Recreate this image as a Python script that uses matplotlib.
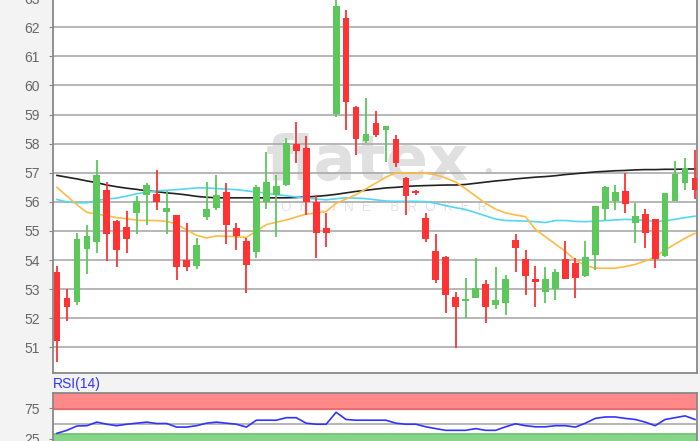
import numpy as np
import matplotlib
matplotlib.use("Agg")
import matplotlib.pyplot as plt

# daily candles
opens = [53.56, 52.68, 52.55, 54.38, 54.61, 56.37, 55.30, 55.11, 55.62, 56.25,
         56.23, 55.66, 55.51, 53.96, 53.79, 55.48, 55.79, 56.31, 55.07, 54.63,
         54.29, 56.01, 56.24, 56.58, 57.96, 57.82, 55.95, 55.06, 59.01, 62.29,
         59.22, 58.10, 58.67, 58.47, 58.13, 56.79, 56.35, 55.40, 54.29, 54.06,
         52.69, 52.60, 52.71, 53.14, 52.45, 52.54, 54.66, 54.00, 53.32, 52.89,
         53.00, 54.00, 53.86, 53.45, 54.18, 55.75, 56.04, 56.35, 55.26, 55.55,
         55.38, 54.14, 56.04, 56.64, 56.79]
closes = [51.21, 52.38, 54.71, 54.80, 56.91, 54.88, 54.34, 54.74, 56.00, 56.54,
          56.00, 55.77, 53.75, 53.75, 54.48, 55.74, 56.19, 55.19, 54.84, 53.83,
          56.47, 56.64, 56.52, 57.99, 57.76, 56.01, 54.92, 54.94, 62.69, 59.44,
          58.15, 58.30, 58.29, 58.58, 57.33, 56.20, 56.32, 54.71, 53.32, 52.80,
          52.40, 52.65, 53.00, 52.40, 52.60, 53.32, 54.41, 53.45, 53.25, 53.32,
          53.55, 53.36, 53.37, 54.08, 55.83, 56.47, 56.30, 55.92, 55.49, 54.92,
          54.03, 56.26, 56.92, 57.15, 56.41]
highs = [53.79, 53.02, 54.93, 55.22, 57.45, 56.68, 55.39, 55.70, 56.19, 56.65,
         57.09, 56.37, 55.56, 55.28, 54.76, 56.68, 56.91, 56.65, 55.26, 54.75,
         56.58, 57.73, 56.92, 58.19, 58.76, 58.26, 56.24, 55.62, 63.00, 62.59,
         59.30, 59.56, 59.12, 58.61, 58.30, 56.85, 56.41, 55.61, 54.89, 54.14,
         52.91, 53.38, 54.06, 53.32, 53.77, 53.49, 54.89, 54.35, 53.81, 53.77,
         53.68, 54.67, 54.06, 54.67, 55.86, 56.55, 56.58, 57.00, 55.95, 55.75,
         55.38, 56.27, 57.42, 57.50, 57.78]
lows = [50.49, 51.92, 52.44, 53.53, 54.25, 53.98, 53.75, 54.25, 54.88, 55.22,
        55.71, 54.88, 53.31, 53.62, 53.70, 55.37, 55.71, 54.56, 54.36, 52.86,
        54.06, 55.75, 54.80, 56.55, 57.33, 55.55, 54.06, 54.46, 58.93, 58.47,
        57.61, 58.01, 58.24, 57.38, 57.21, 55.55, 56.24, 54.63, 53.20, 52.17,
        50.97, 52.01, 52.71, 51.83, 52.31, 52.11, 53.60, 52.80, 52.40, 52.54,
        52.63, 53.34, 52.71, 53.43, 53.66, 55.38, 55.72, 55.61, 54.58, 54.41,
        53.72, 54.12, 56.04, 56.41, 56.10]

# moving averages
ma_long = [56.91, 56.85, 56.79, 56.72, 56.66, 56.58, 56.52, 56.47, 56.43, 56.38,
           56.35, 56.31, 56.28, 56.24, 56.19, 56.16, 56.14, 56.14, 56.14, 56.14,
           56.14, 56.14, 56.14, 56.14, 56.15, 56.17, 56.19, 56.22, 56.26, 56.31,
           56.36, 56.40, 56.44, 56.48, 56.50, 56.53, 56.55, 56.56, 56.57, 56.58,
           56.58, 56.60, 56.64, 56.68, 56.72, 56.75, 56.79, 56.82, 56.85, 56.87,
           56.90, 56.94, 56.97, 57.00, 57.03, 57.05, 57.07, 57.08, 57.10, 57.11,
           57.11, 57.12, 57.12, 57.13, 57.13]
ma_mid = [56.08, 56.00, 55.97, 55.97, 56.05, 56.10, 56.13, 56.20, 56.28, 56.33,
          56.38, 56.40, 56.42, 56.45, 56.48, 56.48, 56.46, 56.44, 56.42, 56.38,
          56.34, 56.30, 56.25, 56.21, 56.17, 56.13, 56.10, 56.07, 56.11, 56.14,
          56.13, 56.11, 56.07, 56.03, 56.02, 56.02, 56.02, 56.01, 55.95, 55.87,
          55.80, 55.74, 55.63, 55.52, 55.41, 55.36, 55.35, 55.34, 55.32, 55.29,
          55.36, 55.36, 55.33, 55.32, 55.34, 55.36, 55.38, 55.40, 55.39, 55.36,
          55.33, 55.35, 55.40, 55.46, 55.51]
ma_short = [56.50, 56.20, 55.90, 55.64, 55.58, 55.52, 55.46, 55.42, 55.37, 55.36,
            55.36, 55.33, 55.24, 55.04, 54.85, 54.76, 54.83, 54.82, 54.80, 54.78,
            55.00, 55.22, 55.30, 55.38, 55.48, 55.58, 55.62, 55.67, 55.95, 56.10,
            56.25, 56.45, 56.65, 56.85, 57.00, 57.00, 57.00, 56.98, 56.93, 56.82,
            56.68, 56.45, 56.20, 55.95, 55.75, 55.62, 55.55, 55.49, 55.05, 54.80,
            54.55, 54.30, 54.00, 53.82, 53.72, 53.72, 53.72, 53.78, 53.85, 53.97,
            54.10, 54.35, 54.55, 54.75, 54.92]

rsi = [33.9, 38.8, 45.9, 46.4, 52.3, 48.8, 46.4, 48.8, 50.5, 52.3,
       50.0, 50.0, 44.1, 44.1, 46.4, 50.5, 52.3, 50.5, 48.8, 44.1,
       55.4, 55.4, 55.4, 59.5, 59.5, 50.5, 48.8, 48.8, 68.4, 56.6,
       55.4, 55.4, 55.4, 55.4, 50.5, 48.8, 48.8, 44.6, 41.6, 38.8,
       38.8, 38.8, 41.6, 38.8, 38.8, 44.6, 49.5, 46.4, 44.6, 44.6,
       46.4, 46.4, 44.1, 50.5, 58.4, 60.7, 60.7, 58.4, 56.6, 52.3,
       46.4, 56.6, 59.5, 62.5, 56.6]

price_ticks = list(range(51, 64))
rsi_ticks = [25, 75]

up_col = "#5cc85c"
down_col = "#ff3333"
plt.rcParams["font.family"] = ["Liberation Sans", "DejaVu Sans"]

x = np.arange(len(opens))
o = np.array(opens)
c = np.array(closes)
colors = np.where(c >= o, up_col, down_col)

fig = plt.figure(figsize=(7, 4.41), dpi=100, facecolor="#f3f3f3")

# main price panel (top runs a little past the figure edge, like the original)
ax = fig.add_axes([0.075, 1 - 373 / 441, 0.9207, 378 / 441])
ax.set_facecolor("white")
ax.set_xlim(-0.45, len(opens) - 0.8)
ax.set_ylim(50.12, 63.11)
ax.set_yticks(price_ticks)
ax.set_xticks([])
ax.grid(axis="y", color="#aaaaaa", lw=1.2, zorder=1)
ax.set_axisbelow(True)
ax.tick_params(axis="y", colors="#888888", labelcolor="#666666", labelsize=10,
               length=3, pad=6)
for s in ax.spines.values():
    s.set_color("#888888")
    s.set_linewidth(1.3)

# watermark
ax.text(0.488, 0.555, "flatex", transform=ax.transAxes, ha="center", va="center",
        fontsize=45, fontweight="bold", family="DejaVu Sans", color="#e0e0e0",
        zorder=0.5)
ax.text(0.675, 0.53, "•", transform=ax.transAxes, ha="center", va="center",
        fontsize=16, color="#dddddd", zorder=0.5)
ax.text(0.515, 0.44, "O  N  L  I  N  E     B  R  O  K  E  R", transform=ax.transAxes,
        ha="center", va="center", fontsize=10, color="#e4e4e4", zorder=0.5)

ax.plot(x, ma_long, color="#222222", lw=1.2, zorder=3)
ax.plot(x, ma_mid, color="#55d6f2", lw=1.2, zorder=3)
ax.plot(x, ma_short, color="#ffbb44", lw=1.2, zorder=3)

ax.vlines(x, lows, highs, colors=colors, lw=1.3, zorder=4)
ax.bar(x, np.abs(c - o) + 0.03, bottom=np.minimum(o, c), width=0.68,
       color=colors, zorder=5)

# RSI panel
ax2 = fig.add_axes([0.075, 1 - 454 / 441, 0.9207, 61 / 441])
ax2.set_facecolor("white")
ax2.set_xlim(-0.45, len(opens) - 0.8)
ax2.set_ylim(0, 100)
ax2.set_yticks(rsi_ticks)
ax2.set_xticks([])
ax2.tick_params(axis="y", colors="#888888", labelcolor="#666666", labelsize=10,
                length=3, pad=6)
for s in ax2.spines.values():
    s.set_color("#888888")
    s.set_linewidth(1.3)
ax2.axhspan(73, 100, color="#ff8888", zorder=1)
ax2.axhline(74, color="#e06a6a", lw=1.2, zorder=1)
ax2.axhspan(0, 33, color="#88d488", zorder=1)
ax2.axhline(33, color="#6cc46c", lw=1.2, zorder=1)
ax2.axhline(50, color="#aaaaaa", lw=1.2, zorder=1)
ax2.plot(x, rsi, color="#3333ff", lw=1.2, zorder=3)

fig.text(53 / 700, 1 - 384 / 441, "RSI(14)", color="#3333ff", fontsize=10,
         ha="left", va="center")

fig.savefig("out.png", dpi=100, facecolor=fig.get_facecolor())
